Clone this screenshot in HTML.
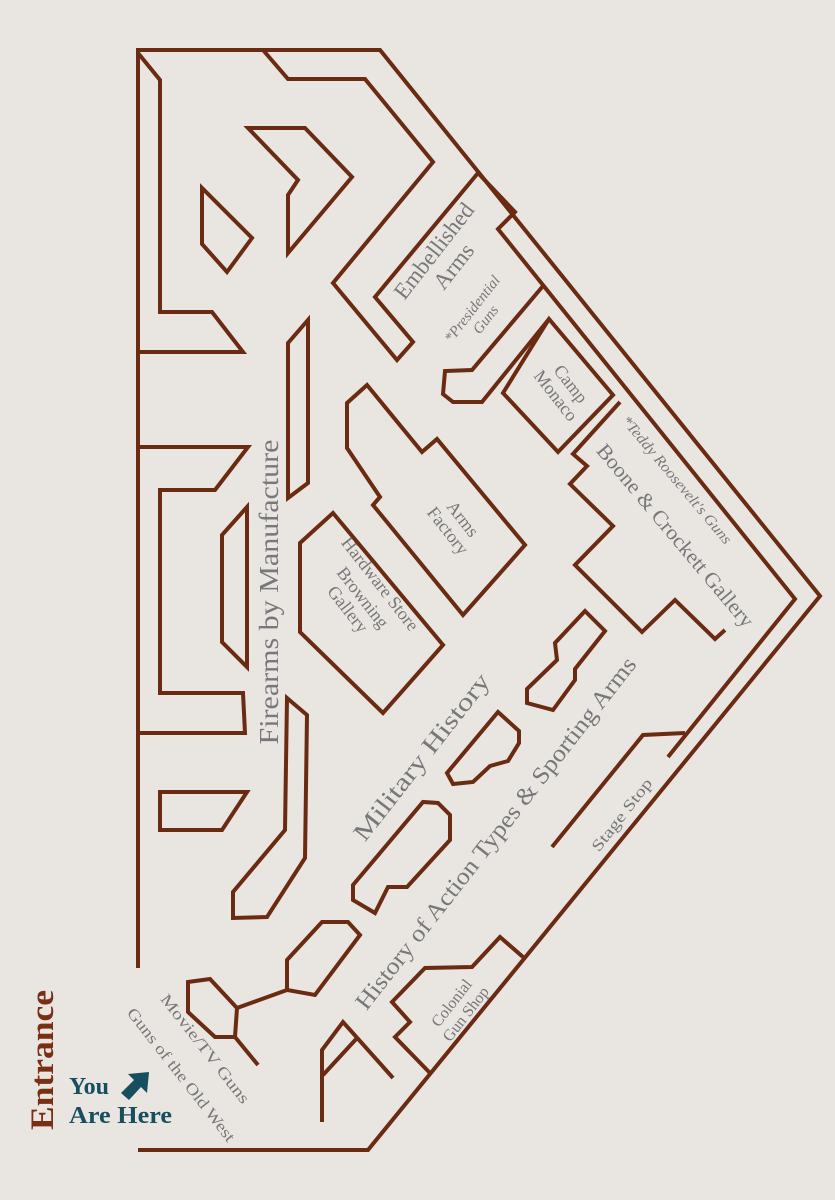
<!DOCTYPE html>
<html><head><meta charset="utf-8"><style>
html,body{margin:0;padding:0;background:#e9e5e1;}
svg{display:block}
text{font-family:"Liberation Serif",serif;fill:#77787a;}
</style></head><body>
<svg width="835" height="1200" viewBox="0 0 835 1200" xmlns="http://www.w3.org/2000/svg">
<rect width="835" height="1200" fill="#e9e5e1"/>
<g fill="none" stroke="#6b2a12" stroke-width="4" stroke-linejoin="miter">
<!-- outer -->
<polyline points="138,968 138,50 380,50 820,596 368,1150 138,1150"/>
<!-- inner top wall -->
<polyline points="263,50 288,79 365,79 433,162 333,283 397,360 413,342 375,297 478,173"/>
<polyline points="478,173 515,212 498,229 795,599 668,757"/>
<!-- embellished bottom -->
<polyline points="543,286 472,370 445,371 443,394 453,402 482,402 549,319"/>
<!-- camp monaco -->
<polygon points="549,319 613,395 558,452 503,393"/>
<!-- boone -->
<polyline points="620,402 573,454 587,466 570,484 613,526 575,565 642,632 675,600 715,639 725,630"/>
<!-- top-left -->
<polyline points="138,53 160,80 160,312 212,312 243,352 138,352"/>
<polygon points="248,128 305,128 352,177 288,253 288,195 298,180"/>
<polygon points="202,188 202,244 227,272 252,238"/>
<polygon points="288,343 308,320 308,483 288,498"/>
<!-- arms factory -->
<polygon points="347,403 367,385 422,452 437,439 525,545 463,615 373,505 380,497 347,448"/>
<!-- hardware -->
<polygon points="333,513 443,645 383,713 300,632 300,543"/>
<!-- left middle -->
<polyline points="138,447 248,447 215,490 160,490 160,693 243,693 245,733 138,733"/>
<polygon points="247,507 247,667 222,642 222,535"/>
<polygon points="287,698 307,715 305,858 267,917 233,918 233,892 285,830"/>
<polygon points="160,792 247,792 222,830 160,830"/>
<!-- military pieces -->
<polygon points="585,611 605,631 575,669 575,680 553,710 527,703 527,689 557,660 555,643"/>
<polygon points="498,712 519,731 519,743 508,761 490,766 473,782 453,784 447,773"/>
<polygon points="353,885 423,802 438,803 450,815 450,840 407,887 388,887 375,913 353,900"/>
<polygon points="287,960 322,922 348,922 360,935 315,995 287,990"/>
<polyline points="287,990 237,1008"/>
<polygon points="188,982 210,979 237,1008 235,1037 215,1037 188,1012"/>
<polyline points="235,1037 258,1065"/>
<!-- stage stop -->
<polyline points="552,847 643,735 685,733"/>
<!-- bottom right -->
<polyline points="322,1122 322,1050 343,1022 393,1078"/>
<polyline points="323,1075 358,1037"/>
<polyline points="430,1073 395,1037 410,1022 392,1002 425,968 472,967 500,937 523,957"/>
</g>
<g>
<text transform="translate(278,592) rotate(-90)" text-anchor="middle" font-size="27" textLength="305" lengthAdjust="spacingAndGlyphs">Firearms by Manufacture</text>
<text transform="translate(443,258) rotate(-52)" text-anchor="middle" font-size="23"><tspan x="0" y="-4">Embellished</tspan><tspan x="0" y="21">Arms</tspan></text>
<text transform="translate(476,312) rotate(-52)" text-anchor="middle" font-size="15" font-style="italic"><tspan x="0" y="0">*Presidential</tspan><tspan x="0" y="17">Guns</tspan></text>
<text transform="translate(563,390) rotate(52)" text-anchor="middle" font-size="18"><tspan x="0" y="-4">Camp</tspan><tspan x="0" y="15">Monaco</tspan></text>
<text transform="translate(455,525) rotate(52)" text-anchor="middle" font-size="18"><tspan x="0" y="-4">Arms</tspan><tspan x="0" y="15">Factory</tspan></text>
<text transform="translate(366,595) rotate(52)" text-anchor="middle" font-size="18"><tspan x="0" y="-12">Hardware Store</tspan><tspan x="0" y="10">Browning</tspan><tspan x="0" y="29">Gallery</tspan></text>
<text transform="translate(673,483) rotate(50)" text-anchor="middle" font-size="15" font-style="italic" textLength="162" lengthAdjust="spacingAndGlyphs">*Teddy Roosevelt's Guns</text>
<text transform="translate(670,540) rotate(50)" text-anchor="middle" font-size="21" textLength="232" lengthAdjust="spacingAndGlyphs">Boone &amp; Crockett Gallery</text>
<text transform="translate(428,762) rotate(-52)" text-anchor="middle" font-size="25" textLength="205" lengthAdjust="spacingAndGlyphs">Military History</text>
<text transform="translate(502,838) rotate(-52)" text-anchor="middle" font-size="24" textLength="440" lengthAdjust="spacingAndGlyphs">History of Action Types &amp; Sporting Arms</text>
<text transform="translate(626,818) rotate(-52)" text-anchor="middle" font-size="16" textLength="88" lengthAdjust="spacingAndGlyphs">Stage Stop</text>
<text transform="translate(458,1008) rotate(-52)" text-anchor="middle" font-size="16"><tspan x="0" y="-3">Colonial</tspan><tspan x="0" y="15">Gun Shop</tspan></text>
<text transform="translate(201,1052) rotate(52)" text-anchor="middle" font-size="16" textLength="134" lengthAdjust="spacingAndGlyphs">Movie/TV Guns</text>
<text transform="translate(177,1078) rotate(52)" text-anchor="middle" font-size="16" textLength="165" lengthAdjust="spacingAndGlyphs">Guns of the Old West</text>
<text transform="translate(53,1060) rotate(-90)" text-anchor="middle" font-size="33" font-weight="bold" style="fill:#7a2e14" textLength="140" lengthAdjust="spacingAndGlyphs">Entrance</text>
<text x="69" y="1094" font-size="24" font-weight="bold" style="fill:#174f5f">You</text>
<text x="69" y="1123" font-size="24" font-weight="bold" style="fill:#174f5f" textLength="103" lengthAdjust="spacingAndGlyphs">Are Here</text>
<polygon points="149,1072 147,1093 141,1087 129,1100 121,1093 134,1080 128,1074" fill="#174f5f"/>
</g>
</svg>
</body></html>
